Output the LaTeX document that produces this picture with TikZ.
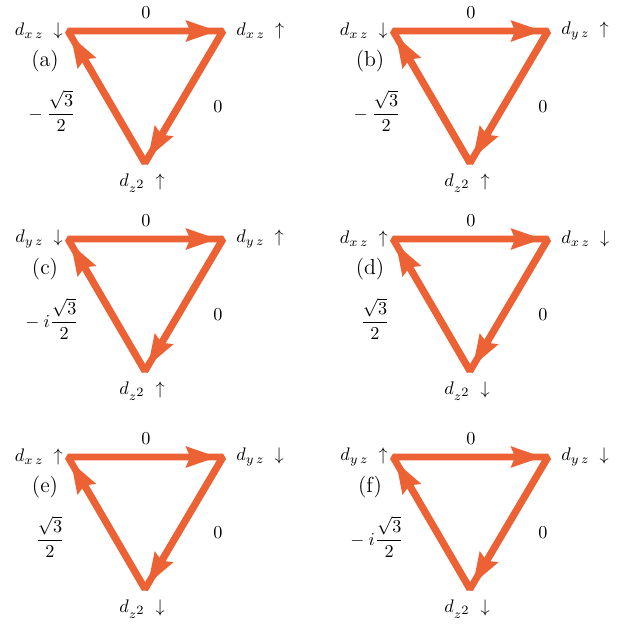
\documentclass[tikz,border=0pt]{standalone}
\usepackage{amsmath, amssymb}
\usepackage{xcolor}
\usepackage{tikz}
\usetikzlibrary{arrows.meta}
\definecolor{HopOrange}{RGB}{236, 98, 52}
\newcommand{\dzz}{d_{z^{\scriptstyle 2}}}

\begin{document}
\begin{tikzpicture}[x=0.55pt, y=-0.55pt,
    hopline/.style={HopOrange, line width=3.8pt, line join=bevel},
    hoparrow/.style={HopOrange, line width=3.8pt, -{Stealth[length=17pt, width=11pt, inset=2pt]}, shorten >=3pt},
    orbital/.style={inner sep=0pt},
    amplitude/.style={inner sep=0pt}]
    \useasboundingbox (0,0) rectangle (639,627);
    % six hopping triangles: name / shift / left / right / bottom / amplitude
    \foreach \p/\dx/\dy/\lt/\rt/\bt/\cf in {
        a/0/0/{d_{x\,z}\;\downarrow}/{d_{x\,z}\;\uparrow}/{\dzz\;\uparrow}/{{}-\dfrac{\sqrt{3}}{2}},
        b/325/0/{d_{x\,z}\;\downarrow}/{d_{y\,z}\;\uparrow}/{\dzz\;\uparrow}/{{}-\dfrac{\sqrt{3}}{2}},
        c/0/208/{d_{y\,z}\;\downarrow}/{d_{y\,z}\;\uparrow}/{\dzz\;\uparrow}/{{}-i\dfrac{\sqrt{3}}{2}},
        d/325/208/{d_{x\,z}\;\uparrow}/{d_{x\,z}\;\downarrow}/{\dzz\;\downarrow}/{\dfrac{\sqrt{3}}{2}},
        e/0/426/{d_{x\,z}\;\uparrow}/{d_{y\,z}\;\downarrow}/{\dzz\;\downarrow}/{\dfrac{\sqrt{3}}{2}},
        f/325/426/{d_{y\,z}\;\uparrow}/{d_{y\,z}\;\downarrow}/{\dzz\;\downarrow}/{{}-i\dfrac{\sqrt{3}}{2}}}{
        \begin{scope}[shift={(\dx,\dy)}]
            % corners
            \coordinate (\p-l) at (68,31);
            \coordinate (\p-r) at (223,31);
            \coordinate (\p-b) at (145,163);
            % edges and arrows
            \draw[hopline] (\p-l) -- (\p-r) -- (\p-b) -- cycle;
            \draw[hoparrow] (\p-l) -- (\p-r);
            \draw[hoparrow] (\p-r) -- (\p-b);
            \draw[hoparrow] (\p-b) -- (\p-l);
            % orbital labels
            \node[orbital, anchor=east] (\p-lt) at (63,31) {$\lt$};
            \node[orbital, anchor=west] (\p-rt) at (236,31) {$\rt$};
            \node[orbital] (\p-bt) at (142,183) {$\bt$};
            % amplitudes
            \node[amplitude] (\p-t0) at (146,13) {$0$};
            \node[amplitude] (\p-r0) at (218,107) {$0$};
            \node[amplitude] (\p-cf) at (50,111) {$\cf$};
            \node[font=\large] (\p-tag) at (45,61) {(\p)};
        \end{scope}
    }
\end{tikzpicture}
\end{document}
